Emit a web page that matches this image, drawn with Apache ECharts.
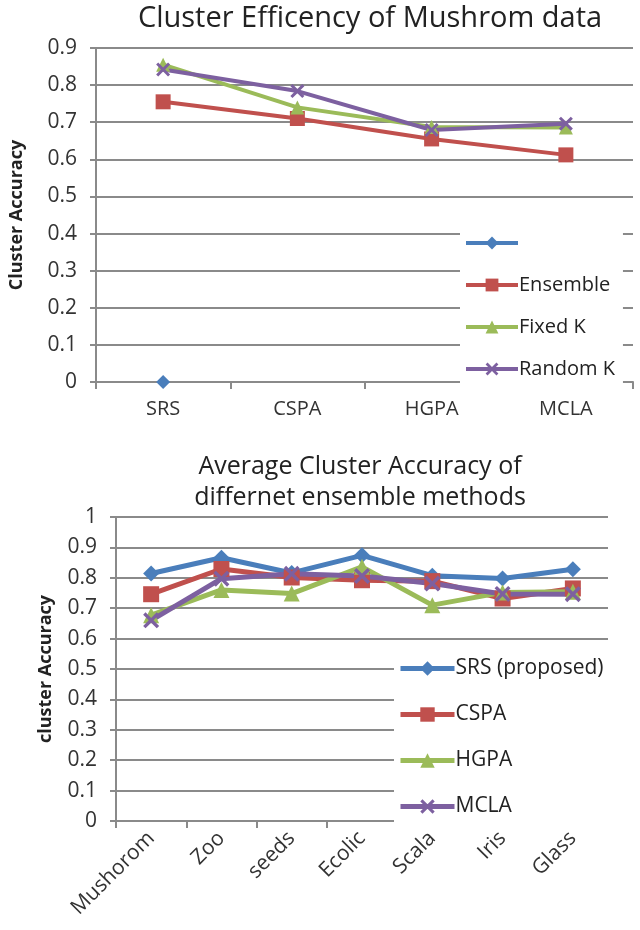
<!DOCTYPE html>
<html>
<head>
<meta charset="utf-8">
<script src="https://cdn.jsdelivr.net/npm/echarts@6/dist/echarts.min.js"></script>
<style>
  html, body { margin: 0; padding: 0; background: #fff; }
  #main { width: 640px; height: 930px; }
</style>
</head>
<body>
<div id="main"></div>
<script>
// top chart: mushroom data
var cats1 = ['SRS', 'CSPA', 'HGPA', 'MCLA'];
var srsTop = [0, null, null, null];
var ensemble = [0.755, 0.71, 0.655, 0.612];
var fixedK = [0.855, 0.74, 0.687, 0.686];
var randomK = [0.842, 0.784, 0.679, 0.696];
var ticks1 = [0, 0.9, 0.1];

// bottom chart: average accuracy
var cats2 = ['Mushorom', 'Zoo', 'seeds', 'Ecolic', 'Scala', 'Iris', 'Glass'];
var srsProposed = [0.814, 0.866, 0.816, 0.874, 0.807, 0.798, 0.828];
var cspa = [0.746, 0.829, 0.801, 0.792, 0.789, 0.732, 0.765];
var hgpa = [0.677, 0.76, 0.748, 0.836, 0.71, 0.752, 0.754];
var mcla = [0.66, 0.797, 0.813, 0.806, 0.781, 0.747, 0.746];
var ticks2 = [0, 1, 0.1];

var FONT = '"Open Sans", sans-serif';
var BLUE = '#4a7ebb', RED = '#c0504d', GREEN = '#9bbb59', PURPLE = '#7d60a0';
var GRID_C = '#8a8a8a';
var xMark = 'path://M0,1.5 L1.5,0 L5,3.5 L8.5,0 L10,1.5 L6.5,5 L10,8.5 L8.5,10 L5,6.5 L1.5,10 L0,8.5 L3.5,5 Z';

function valAxis(gi, t, name, gap) {
    return {
        type: 'value', gridIndex: gi, min: t[0], max: t[1], interval: t[2],
        name: name, nameLocation: 'middle', nameGap: gap,
        nameTextStyle: { fontFamily: FONT, fontWeight: 'bold', fontSize: 18, color: '#222' },
        axisLine: { show: true, lineStyle: { color: GRID_C, width: 2 } },
        axisTick: { show: true, length: 6, lineStyle: { color: GRID_C, width: 2 } },
        splitLine: { lineStyle: { color: GRID_C, width: 2 } },
        axisLabel: {
            fontFamily: FONT, fontSize: 21, color: '#333', margin: 19,
            formatter: function (v) { return String(Math.round(v * 10) / 10); }
        }
    };
}

function catAxis(gi, cats, rot) {
    return {
        type: 'category', gridIndex: gi, data: cats, boundaryGap: true,
        axisLine: { lineStyle: { color: GRID_C, width: 2 } },
        axisTick: { show: true, length: 7, lineStyle: { color: GRID_C, width: 2 } },
        axisLabel: { fontFamily: FONT, fontSize: rot ? 21 : 20, color: '#333', rotate: rot, margin: rot ? 14 : 17 }
    };
}

function line(name, gi, data, color, symbol, size, w) {
    return {
        name: name, type: 'line', xAxisIndex: gi, yAxisIndex: gi, data: data,
        symbol: symbol, symbolSize: size, showSymbol: true,
        lineStyle: { color: color, width: w },
        itemStyle: { color: color },
        connectNulls: false, z: 3
    };
}

var chart = echarts.init(document.getElementById('main'));
chart.setOption({
    backgroundColor: '#fff',
    animation: false,
    title: [
        {
            text: 'Cluster Efficency of Mushrom data',
            left: 370, top: 4, textAlign: 'center', padding: 0,
            textStyle: { fontFamily: FONT, fontSize: 29, fontWeight: 'normal', color: '#222' }
        },
        {
            text: 'Average Cluster Accuracy of\ndiffernet ensemble methods',
            left: 360, top: 451, textAlign: 'center', padding: 0,
            textStyle: { fontFamily: FONT, fontSize: 25, fontWeight: 'normal', color: '#222', lineHeight: 31 }
        }
    ],
    grid: [
        { left: 96, right: 7, top: 48, height: 334 },
        { left: 116, right: 32, top: 517, height: 304 }
    ],
    legend: [
        {
            data: [' ', 'Ensemble', 'Fixed K', 'Random K'],
            orient: 'vertical', left: 460, top: 218,
            padding: [15, 8, 12, 4], backgroundColor: '#fff',
            itemWidth: 52, itemHeight: 16, itemGap: 22,
            lineStyle: { width: 4 },
            textStyle: { fontFamily: FONT, fontSize: 20, color: '#222', padding: [0, 0, 0, -4] }
        },
        {
            data: ['SRS (proposed)', 'CSPA', 'HGPA', 'MCLA'],
            orient: 'vertical', left: 394, top: 643,
            padding: [15, 10, 12, 4], backgroundColor: '#fff',
            itemWidth: 54, itemHeight: 18, itemGap: 25,
            lineStyle: { width: 5 },
            textStyle: { fontFamily: FONT, fontSize: 21, color: '#222', padding: [0, 0, 0, -4] }
        }
    ],
    xAxis: [catAxis(0, cats1, 0), catAxis(1, cats2, 45)],
    yAxis: [valAxis(0, ticks1, 'Cluster Accuracy', 70), valAxis(1, ticks2, 'cluster Accuracy', 61)],
    series: [
        line(' ', 0, srsTop, BLUE, 'diamond', 14, 4),
        line('Ensemble', 0, ensemble, RED, 'rect', 15, 4),
        line('Fixed K', 0, fixedK, GREEN, 'triangle', 14, 4),
        line('Random K', 0, randomK, PURPLE, xMark, 14, 4),
        line('SRS (proposed)', 1, srsProposed, BLUE, 'diamond', 16, 5),
        line('CSPA', 1, cspa, RED, 'rect', 16, 5),
        line('HGPA', 1, hgpa, GREEN, 'triangle', 16, 5),
        line('MCLA', 1, mcla, PURPLE, xMark, 16, 5)
    ]
});
</script>
</body>
</html>
